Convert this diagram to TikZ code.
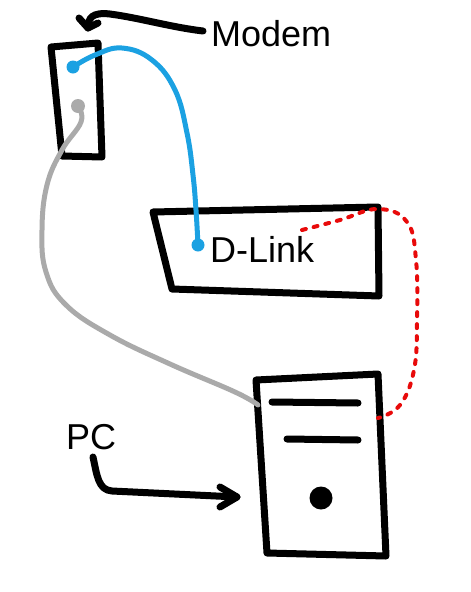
\documentclass[tikz,border=0pt]{standalone}
\usepackage{fontspec}
\setmainfont{Liberation Sans}
\begin{document}
\begin{tikzpicture}[x=1pt,y=-1pt, line cap=round, line join=round,
  sketch/.style={line width=7pt, black},
  cable/.style={line width=5pt},
  lbl/.style={font=\fontsize{36}{40}\selectfont, inner sep=0pt, anchor=base west}]
\definecolor{cblue}{RGB}{27,161,226}
\definecolor{cgray}{RGB}{170,170,170}
\definecolor{cred}{RGB}{232,10,10}
\useasboundingbox (0,0) rectangle (471,592);
% labels
\node[lbl] (modem) at (211,46) {Modem};
\node[lbl] (dlink) at (210,262) {D-Link};
\node[lbl] (pc) at (66,449) {PC};
% modem box
\draw[sketch] (51,47) -- (98,43) -- (102,157) -- (62,156) -- cycle;
% d-link box
\draw[sketch] (153,212) -- (378,207) -- (379,296) -- (172,289) -- cycle;
% pc box
\draw[sketch] (256,380) -- (378,374) -- (386,556) -- (267,553) -- cycle;
\draw[sketch] (272,402) -- (358,403);
\draw[sketch] (287,439) -- (358,440);
\fill (321,498) circle (11.5);
% modem arrow
\coordinate (ma) at (203,31);
\coordinate (mt) at (88,28);
\draw[sketch] (ma) .. controls (170,27) and (140,18) .. (110,14) .. controls (92,12) and (88,18) .. (mt);
\draw[sketch] (79,18) -- (mt) -- (98,23);
% pc arrow
\coordinate (pa) at (93,457);
\coordinate (pt) at (237,497);
\draw[sketch] (pa) .. controls (97,475) and (98,490) .. (112,491) -- (pt);
\draw[sketch] (220,487) -- (pt) -- (220,507);
% blue cable
\coordinate (b1) at (73,67);
\coordinate (b2) at (198,245);
\draw[cable, cblue] plot[smooth, tension=0.7] coordinates {(b1) (95,55) (122,48) (152,60) (175,90) (187,133) (193,175) (196,210) (b2)};
\fill[cblue] (b1) circle (6.5);
\fill[cblue] (b2) circle (6.5);
% gray cable
\coordinate (g1) at (78,106);
\coordinate (g2) at (258,405);
\draw[cable, cgray] plot[smooth, tension=0.7] coordinates {(g1) (81,122) (62,150) (47,185) (42,230) (46,272) (66,305) (110,335) (170,364) (235,392) (g2)};
\fill[cgray] (g1) circle (7);
% red dotted cable
\coordinate (r1) at (302,230);
\coordinate (r2) at (378,418);
\draw[line width=4pt, cred, dash pattern=on 4pt off 8pt] plot[smooth, tension=0.7] coordinates {(r1) (340,220) (378,209) (407,222) (416,260) (417,320) (414,370) (400,405) (r2)};
\end{tikzpicture}
\end{document}
